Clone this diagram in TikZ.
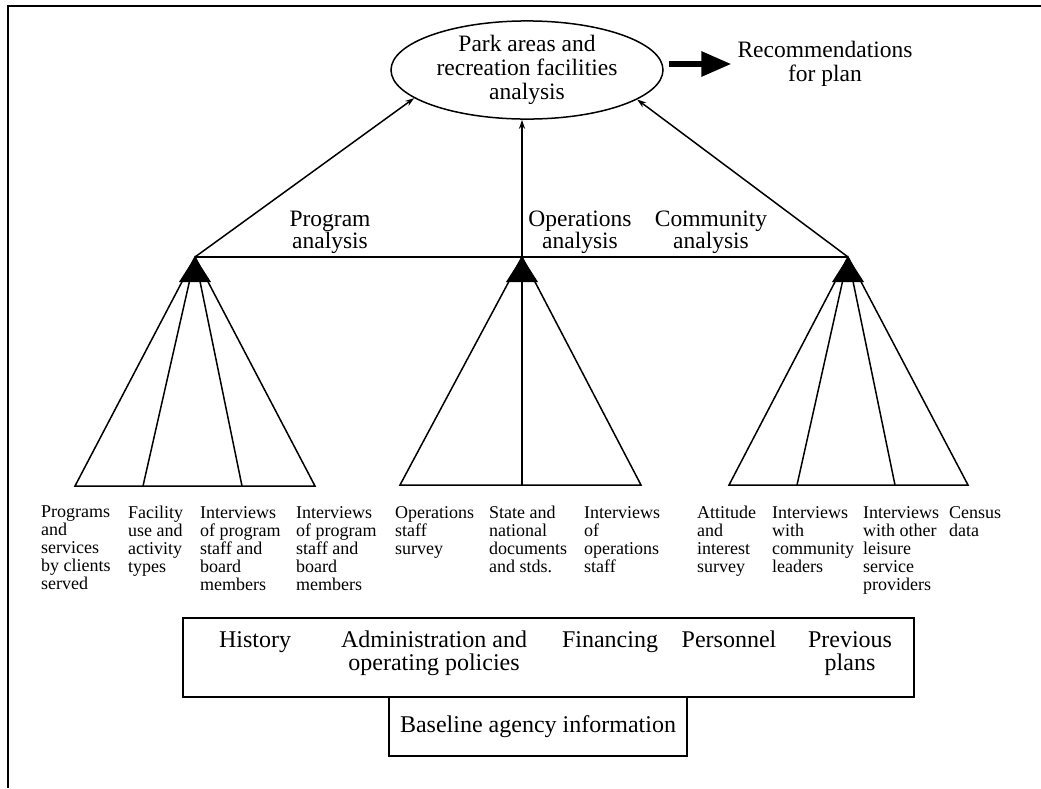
\documentclass[tikz,border=0pt]{standalone}
\usepackage{fontspec}
\setmainfont{Liberation Serif}
\usetikzlibrary{shapes.geometric,arrows.meta}
\begin{document}
\begin{tikzpicture}[x=1pt,y=-1pt,
  ln/.style={line width=1.5pt},
  big/.style={font=\fontsize{23.5}{24}\selectfont, align=center, inner sep=0pt},
  midlbl/.style={font=\fontsize{23.5}{22}\selectfont, align=center, inner sep=0pt},
  lbl/.style={font=\fontsize{18}{18}\selectfont, align=left, anchor=north west, inner sep=0pt},
  boxtxt/.style={font=\fontsize{24}{23}\selectfont, align=center, inner sep=0pt},
  intxt/.style={boxtxt, anchor=base},
  tip/.style={-{Stealth[length=9pt,width=6pt]}},
  frame/.style={draw, line width=1.8pt, inner sep=0pt}
]
\useasboundingbox (0,0) rectangle (1041,788);
\draw[line width=2pt] (1041,6) -- (8,6) -- (8,788);

% top ellipse and recommendations
\node[draw, ellipse, line width=1.5pt, minimum width=272pt, minimum height=82pt, big] (ell) at (527,70)
  {Park areas and\\recreation facilities\\analysis};
\node[big, inner sep=6pt] (rec) at (825,64) {Recommendations\\for plan};
\draw[line width=6pt, -{Triangle[length=30pt,width=24pt]}] ([xshift=5pt]ell.east |- rec.west) -- (rec.west);

% apexes
\coordinate (pL) at (195,257);
\coordinate (pM) at (522,257);
\coordinate (pR) at (848,257);

% base corners
\coordinate (lL) at (75,486);  \coordinate (rL) at (315,486);
\coordinate (aL) at (143,486); \coordinate (bL) at (242,486);
\coordinate (lM) at (400,485); \coordinate (rM) at (641,485);
\coordinate (bM) at (522,485);
\coordinate (lR) at (729,485); \coordinate (rR) at (968,485);
\coordinate (aR) at (797,485); \coordinate (bR) at (895,485);

% arrows to the ellipse
\draw[ln,tip] (pL) -- (ell.194);
\draw[ln,tip] (bM) -- (pM |- ell.south);
\draw[ln,tip] (pR) -- (ell.345);
\draw[ln] (pL) -- (pR);

% outline triangles
\draw[ln, line join=miter] (pL) -- (lL) -- (rL) -- cycle;
\draw[ln] (pL) -- (aL);
\draw[ln] (pL) -- (bL);
\draw[ln, line join=miter] (pM) -- (lM) -- (rM) -- cycle;
\draw[ln, line join=miter] (pR) -- (lR) -- (rR) -- cycle;
\draw[ln] (pR) -- (aR);
\draw[ln] (pR) -- (bR);

% filled apex triangles
\fill (pL) -- ++(-16,25) -- ++(32,0) -- cycle;
\fill (pM) -- ++(-16,25) -- ++(32,0) -- cycle;
\fill (pR) -- ++(-16,25) -- ++(32,0) -- cycle;

% analysis labels
\node[midlbl] (tProg) at (330,232) {Program\\analysis};
\node[midlbl] (tOps) at (580,232) {Operations\\analysis};
\node[midlbl] (tCom) at (711,232) {Community\\analysis};

% bottom labels
\node[lbl] (s1) at (41,506) {Programs\\and\\services\\by clients\\served};
\node[lbl] (s2) at (128,506) {Facility\\use and\\activity\\types};
\node[lbl] (s3) at (200,506) {Interviews\\of program\\staff and\\board\\members};
\node[lbl] (s4) at (296,506) {Interviews\\of program\\staff and\\board\\members};
\node[lbl] (s5) at (395,506) {Operations\\staff\\survey};
\node[lbl] (s6) at (489,506) {State and\\national\\documents\\and stds.};
\node[lbl] (s7) at (584,506) {Interviews\\of\\operations\\staff};
\node[lbl] (s8) at (697,506) {Attitude\\and\\interest\\survey};
\node[lbl] (s9) at (772,506) {Interviews\\with\\community\\leaders};
\node[lbl] (s10) at (863,506) {Interviews\\with other\\leisure\\service\\providers};
\node[lbl] (s11) at (949,506) {Census\\data};

% baseline boxes
\node[frame, minimum width=731pt, minimum height=79pt] (upbox) at (548.5,657.5) {};
\node[frame, minimum width=298pt, minimum height=59pt, boxtxt] (lowbox) at (538,726.5) {Baseline agency information};
\node[intxt] (hist) at (255,647) {History};
\node[intxt] (adm) at (434,670) {Administration and\\operating policies};
\node[intxt] (fin) at (610,647) {Financing};
\node[intxt] (pers) at (729,647) {Personnel};
\node[intxt] (prev) at (850,670) {Previous\\plans};
\end{tikzpicture}
\end{document}
